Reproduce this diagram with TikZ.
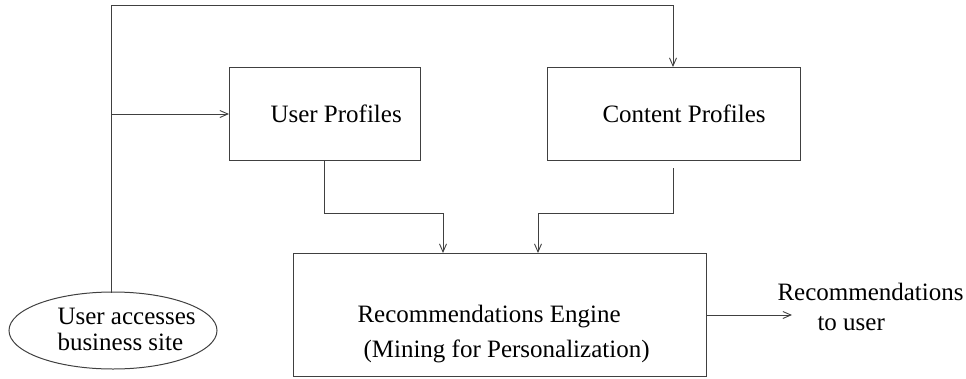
\documentclass[tikz,border=0pt]{standalone}
\usepackage{fontspec}
\setmainfont{Liberation Serif}
\usetikzlibrary{arrows.meta,shapes.geometric}
\begin{document}
\begin{tikzpicture}[x=1pt,y=-1pt,
  line width=1pt, draw=black!75,
  box/.style={draw, rectangle, inner sep=0pt, anchor=north west},
  oval/.style={draw, ellipse, inner sep=0pt, minimum width=208pt, minimum height=77pt},
  txt/.style={anchor=base west, inner sep=0pt, font=\fontsize{25}{29}\selectfont},
  arr/.style={-{Straight Barb[length=8pt,width=7pt,line width=0.9pt]}}]
\useasboundingbox (0,0) rectangle (966,378);
% boxes
\node[box, minimum width=191pt, minimum height=93pt] (up) at (229,67) {};
\node[box, minimum width=253pt, minimum height=93pt] (cp) at (547,67) {};
\node[box, minimum width=413pt, minimum height=123pt] (eng) at (293,253) {};
\node[oval] (site) at (113,330.5) {};
% texts
\node[txt] (tup) at (270,122) {User Profiles};
\node[txt] (tcp) at (602,122) {Content Profiles};
\node[txt] (te1) at (357,322) {Recommendations Engine};
\node[txt] (te2) at (363,357) {(Mining for Personalization)};
\node[txt] (ts1) at (57,324) {User accesses};
\node[txt] (ts2) at (57,350) {business site};
\node[txt] (to1) at (777,300) {Recommendations};
\node[txt] (to2) at (817,330) {to user};
% connector points
\coordinate (stop) at (111,292.5);
\coordinate (tl) at (111,5.5);
\coordinate (tr) at (673,5.5);
\coordinate (br) at (111,114);
\coordinate (u1) at (324,213);
\coordinate (u2) at (443,213);
\coordinate (c0) at (673,168);
\coordinate (c1) at (673,213);
\coordinate (c2) at (538,213);
\coordinate (out) at (792,315);
% connectors
\draw[arr] (stop) -- (tl) -- (tr) -- (tr |- cp.north);
\draw[arr] (br) -- (br -| up.west);
\draw[arr] (u1 |- up.south) -- (u1) -- (u2) -- (u2 |- eng.north);
\draw[arr] (c0) -- (c1) -- (c2) -- (c2 |- eng.north);
\draw[arr] (eng.east |- out) -- (out);
\end{tikzpicture}
\end{document}
